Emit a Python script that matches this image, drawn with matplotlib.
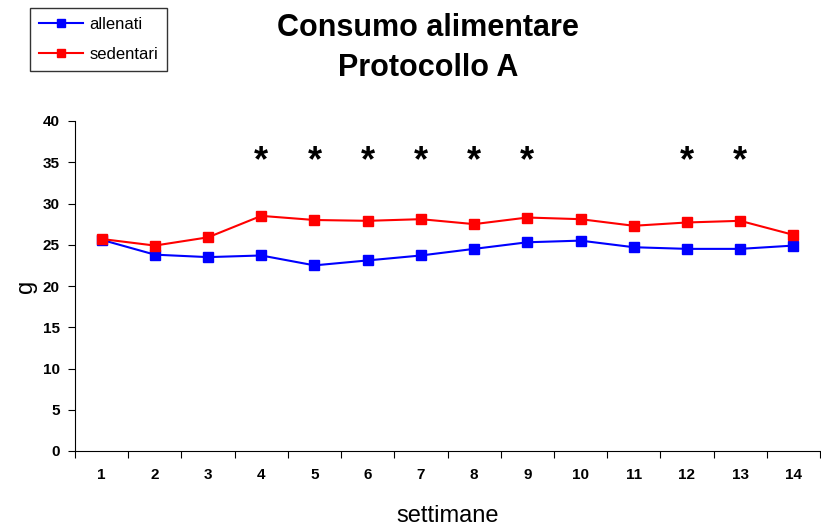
import numpy as np
from matplotlib import pyplot as plt

plt.rcParams['font.family'] = ['Liberation Sans', 'DejaVu Sans']

settimane = list(range(1, 15))
allenati = [25.6, 23.8, 23.5, 23.7, 22.5, 23.1, 23.7, 24.5, 25.3, 25.5, 24.7, 24.5, 24.5, 24.9]
sedentari = [25.7, 24.9, 25.9, 28.5, 28.0, 27.9, 28.1, 27.5, 28.3, 28.1, 27.3, 27.7, 27.9, 26.2]
# weeks with a significant difference
signif = [4, 5, 6, 7, 8, 9, 12, 13]


def plot_graph():
    fig = plt.figure(figsize=(8.21, 5.26), dpi=100)
    ax = fig.add_axes([75 / 821, 75 / 526, 745 / 821, 330 / 526])

    ax.plot(settimane, allenati, color="blue", linewidth=1.5, marker="s", markersize=7,
            label="allenati")
    ax.plot(settimane, sedentari, color="red", linewidth=1.5, marker="s", markersize=7,
            label="sedentari")

    for w in signif:
        ax.text(w, 35.05, "*", ha="center", va="center", fontsize=26, fontweight="bold")

    ax.set_xlim(0.5, 14.5)
    ax.set_ylim(0, 40)
    ax.set_yticks(np.arange(0, 41, 5))
    ax.set_xticks(np.arange(0.5, 15, 1))
    ax.set_xticklabels([])
    ax.set_xticks(settimane, minor=True)
    ax.set_xticklabels([str(s) for s in settimane], minor=True)
    ax.tick_params(axis="x", which="minor", length=0, pad=12)
    ax.tick_params(axis="x", which="major", direction="out", length=5)
    ax.tick_params(axis="y", direction="out", length=5, pad=6)
    for lab in ax.get_xticklabels(minor=True) + ax.get_yticklabels():
        lab.set_fontweight("bold")
        lab.set_fontsize(11)

    ax.spines["top"].set_visible(False)
    ax.spines["right"].set_visible(False)

    ax.set_xlabel("settimane", fontsize=17, labelpad=17)
    ax.set_ylabel("g", fontsize=17, labelpad=4)

    fig.text(428 / 821, 1 - 48 / 526, "Consumo alimentare\nProtocollo A", ha="center", va="center",
             fontsize=22, fontweight="bold", linespacing=1.4)

    fig.legend(loc="upper left", bbox_to_anchor=(30 / 821, 1 - 8 / 526), fontsize=12,
               frameon=True, fancybox=False, edgecolor="black", handlelength=2.6,
               handletextpad=0.4, borderpad=0.55, borderaxespad=0, labelspacing=0.9,
               markerscale=0.8)

    fig.savefig("out.png", dpi=100)


if __name__ == "__main__":
    plot_graph()
